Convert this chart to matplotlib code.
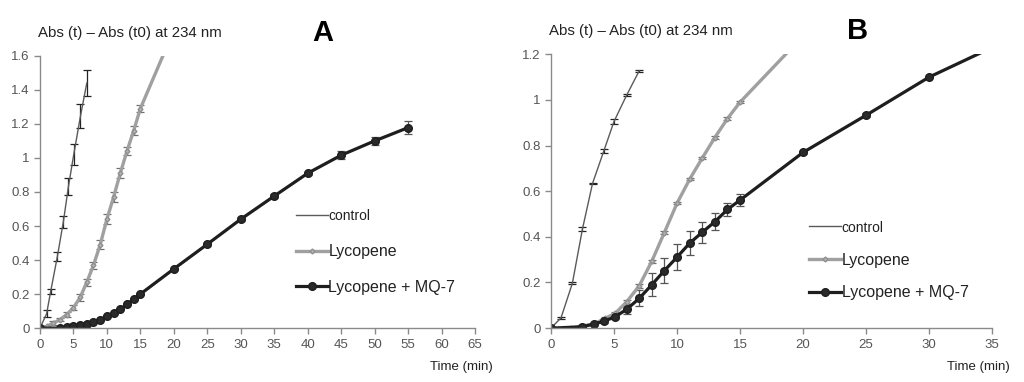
import matplotlib
matplotlib.use("Agg")
import matplotlib.pyplot as plt

plt.rcParams['font.family'] = ['Liberation Sans', 'DejaVu Sans']

# ---- panel A data ----
a_ctrl_t = [0, 1, 1.6, 2.6, 3.5, 4.25, 5.05, 6.05, 7.0]
a_ctrl_v = [0, 0.085, 0.215, 0.42, 0.625, 0.83, 1.02, 1.245, 1.44]
a_ctrl_e = [0, 0.02, 0.015, 0.026, 0.036, 0.05, 0.06, 0.07, 0.074]

a_lyc_t = [0, 1, 2, 3, 4, 5, 6, 7, 8, 9, 10, 11, 12, 13, 14, 15, 20]
a_lyc_v = [0, 0.01, 0.03, 0.05, 0.08, 0.12, 0.18, 0.27, 0.37, 0.49, 0.64, 0.77, 0.91, 1.04, 1.16, 1.29, 1.75]
a_lyc_e = [0, 0.005, 0.01, 0.01, 0.015, 0.015, 0.02, 0.02, 0.02, 0.025, 0.03, 0.03, 0.03, 0.025, 0.025, 0.02, 0.02]

a_mq_t = [0, 3, 4, 5, 6, 7, 8, 9, 10, 11, 12, 13, 14, 15, 20, 25, 30, 35, 40, 45, 50, 55]
a_mq_v = [0, 0, 0.005, 0.01, 0.02, 0.025, 0.037, 0.05, 0.07, 0.086, 0.11, 0.14, 0.17, 0.2,
          0.348, 0.493, 0.64, 0.776, 0.91, 1.016, 1.1, 1.178]
a_mq_e = [0, 0, 0, 0, 0, 0, 0, 0, 0.005, 0.005, 0.005, 0.005, 0.005, 0.005,
          0.008, 0.008, 0.01, 0.01, 0.01, 0.022, 0.025, 0.04]

# ---- panel B data ----
b_ctrl_t = [0, 0.8, 1.7, 2.5, 3.3, 4.2, 5.0, 6.0, 7.0]
b_ctrl_v = [0, 0.045, 0.196, 0.434, 0.634, 0.777, 0.905, 1.02, 1.127]
b_ctrl_e = [0, 0.003, 0.004, 0.008, 0.004, 0.008, 0.01, 0.004, 0.004]

b_lyc_t = [1.6, 2.5, 3.4, 4.3, 5.1, 6.0, 7.0, 8.0, 9.0, 10, 11, 12, 13, 14, 15, 20]
b_lyc_v = [0, 0.01, 0.018, 0.043, 0.065, 0.115, 0.185, 0.293, 0.419, 0.547, 0.652, 0.745,
           0.835, 0.918, 0.99, 1.28]
b_lyc_e = [0, 0.003, 0.004, 0.005, 0.006, 0.008, 0.01, 0.006, 0.006, 0.005, 0.005, 0.005,
           0.005, 0.005, 0.005, 0.005]

b_mq_t = [0, 2.5, 3.4, 4.2, 5.1, 6.0, 7.0, 8.0, 9.0, 10, 11, 12, 13, 14, 15, 20, 25, 30, 35]
b_mq_v = [0, 0.006, 0.018, 0.03, 0.05, 0.082, 0.13, 0.19, 0.252, 0.311, 0.372, 0.42,
          0.466, 0.52, 0.561, 0.77, 0.933, 1.1, 1.23]
b_mq_e = [0, 0.003, 0.005, 0.008, 0.01, 0.022, 0.035, 0.05, 0.056, 0.058, 0.053, 0.047,
          0.038, 0.03, 0.028, 0.006, 0.008, 0.006, 0]

labels = ["control", "Lycopene", "Lycopene + MQ-7"]

fig = plt.figure(figsize=(10.24, 3.82), dpi=100)
axA = fig.add_axes([0.039, 0.141, 0.425, 0.713])
axB = fig.add_axes([0.538, 0.141, 0.431, 0.717])


def panel(ax, ctrl, lyc, mq, xmax, ymax, yticks, letter, letter_x, leg_xy, spacing):
    ax.errorbar(ctrl[0], ctrl[1], yerr=ctrl[2], color='#5a5a5a', lw=1.0,
                ecolor='#222222', elinewidth=0.9, capsize=3, capthick=0.9,
                label=labels[0])
    ax.errorbar(lyc[0], lyc[1], yerr=lyc[2], color='#a0a0a0', lw=2.4,
                marker='D', ms=2.5, mfc='#b5b5b5', mec='#8f8f8f',
                ecolor='#707070', elinewidth=0.9, capsize=3, capthick=0.9,
                label=labels[1])
    ax.errorbar(mq[0], mq[1], yerr=mq[2], color='#1e1e1e', lw=2.3,
                marker='o', ms=5.5, mfc='#2a2a2a', mec='#1e1e1e',
                ecolor='#555555', elinewidth=0.9, capsize=3, capthick=0.9,
                label=labels[2])
    ax.set_xlim(0, xmax)
    ax.set_ylim(0, ymax)
    ax.set_xticks(range(0, xmax + 1, 5))
    ax.set_yticks(yticks)
    ax.set_yticklabels([f"{v:g}" for v in yticks])
    for s in ['top', 'right']:
        ax.spines[s].set_visible(False)
    for s in ['left', 'bottom']:
        ax.spines[s].set_color('#8a8a8a')
        ax.spines[s].set_linewidth(1.0)
    ax.tick_params(colors='#8a8a8a', labelcolor='#555555', labelsize=9.5,
                   length=4, width=1.0)
    ax.text(-0.005, 1.085, "Abs (t) \u2013 Abs (t0) at 234 nm", transform=ax.transAxes,
            fontsize=10.8, color='#222222', ha='left', va='center')
    ax.text(letter_x, 1.085, letter, transform=ax.transAxes, fontsize=21,
            fontweight='bold', ha='center', va='center', color='black')
    ax.text(1.04, -0.12, "Time (min)", transform=ax.transAxes, fontsize=9.5,
            color='#222222', ha='right', va='top')
    handles, labs = ax.get_legend_handles_labels()
    leg = ax.legend([h[0] for h in handles], labs, loc='upper left',
                    bbox_to_anchor=leg_xy, frameon=False, fontsize=11.5,
                    handlelength=2.0, handletextpad=0.05, labelspacing=spacing,
                    borderaxespad=0)
    leg.get_texts()[0].set_fontsize(10)
    for t in leg.get_texts():
        t.set_color('#222222')


panel(axA, (a_ctrl_t, a_ctrl_v, a_ctrl_e), (a_lyc_t, a_lyc_v, a_lyc_e),
      (a_mq_t, a_mq_v, a_mq_e), 65, 1.6, [0, 0.2, 0.4, 0.6, 0.8, 1, 1.2, 1.4, 1.6],
      "A", 0.65, (0.573, 0.46), 1.3)
panel(axB, (b_ctrl_t, b_ctrl_v, b_ctrl_e), (b_lyc_t, b_lyc_v, b_lyc_e),
      (b_mq_t, b_mq_v, b_mq_e), 35, 1.2, [0, 0.2, 0.4, 0.6, 0.8, 1, 1.2],
      "B", 0.695, (0.57, 0.415), 1.1)

fig.savefig("out.png", dpi=100)
